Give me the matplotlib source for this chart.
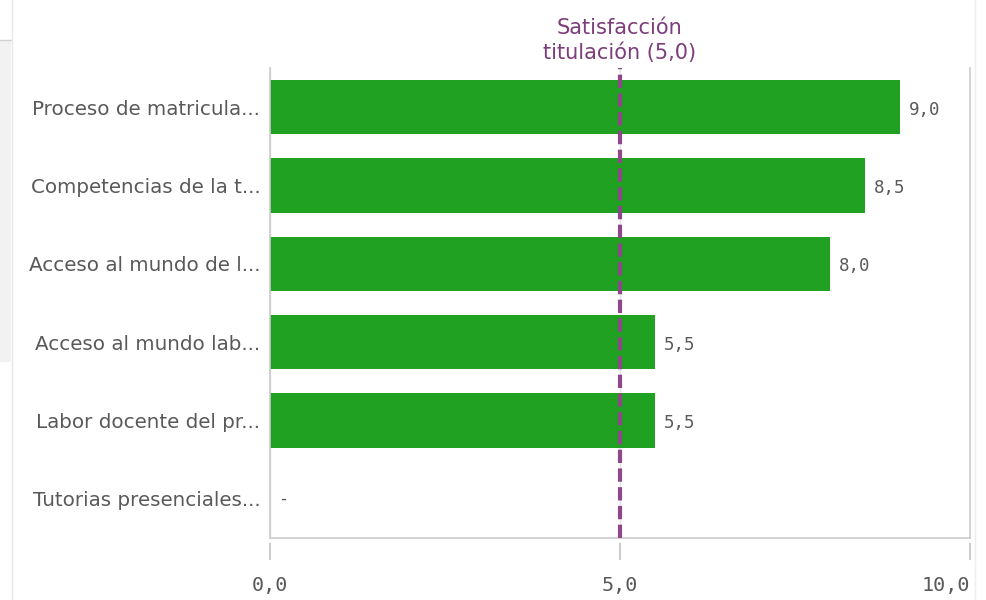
import matplotlib.pyplot as plt
from matplotlib.patches import Rectangle
from matplotlib.lines import Line2D

categories = [
    "Proceso de matricula...",
    "Competencias de la t...",
    "Acceso al mundo de l...",
    "Acceso al mundo lab...",
    "Labor docente del pr...",
    "Tutorias presenciales...",
]
values = [9.0, 8.5, 8.0, 5.5, 5.5, None]
ref_value = 5.0
xticks = [0, 5, 10]

GREEN = "#20a121"
PURPLE = "#8e4788"
PURPLE_TXT = "#7d3c7b"
GREY_TXT = "#595959"
AXIS_GREY = "#cccccc"


def fmt(v):
    return f"{v:.1f}".replace(".", ",")


fig = plt.figure(figsize=(9.87, 6.0), dpi=100)
W, H = 987, 600
ax = fig.add_axes([270 / W, 1 - 538 / H, 700 / W, 470 / H])

# panel fragments at left/right edges of the screenshot
fig.patches.append(Rectangle((0, 1 - 362 / H), 11 / W, 322 / H, transform=fig.transFigure,
                             facecolor="#f2f2f2", edgecolor="none", zorder=0))
fig.lines.append(Line2D([0, 11 / W], [1 - 40 / H] * 2, transform=fig.transFigure,
                        color="#d0d0d0", lw=1))
fig.lines.append(Line2D([12 / W] * 2, [0, 1], transform=fig.transFigure, color="#e8e8e8", lw=1))
fig.lines.append(Line2D([975 / W] * 2, [0, 1], transform=fig.transFigure, color="#eeeeee", lw=1))

ypos = list(range(len(categories)))
for y, v in zip(ypos, values):
    if v is None:
        ax.text(0.12, y, "-", va="center", ha="left", fontsize=12,
                family="DejaVu Sans Mono", color=GREY_TXT)
        continue
    ax.barh(y, v, height=0.69, color=GREEN, zorder=2)
    ax.text(v + 0.12, y + 0.03, fmt(v), va="center", ha="left", fontsize=12.5,
            family="DejaVu Sans Mono", color=GREY_TXT)

ax.set_xlim(0, 10)
ax.set_ylim(len(categories) - 0.5, -0.5)
ax.set_yticks(ypos)
ax.set_yticklabels(categories, fontsize=14.3, color=GREY_TXT)
ax.tick_params(axis="y", length=0, pad=7)

ax.set_xticks(xticks)
ax.set_xticklabels([fmt(t) for t in xticks], family="DejaVu Sans Mono",
                   fontsize=14.5, color=GREY_TXT)
ax.tick_params(axis="x", length=0, pad=27)
xt = ax.get_xticklabels()
xt[-1].set_ha("right")
xt[-1].set_x(10)
for t in xticks:
    ax.plot([t, t], [-0.012, -0.045], transform=ax.get_xaxis_transform(),
            color=AXIS_GREY, lw=1.5, clip_on=False)
ax.grid(axis="x", color="#e3e3e3", lw=1)
ax.set_axisbelow(True)

for s in ["left", "bottom", "right"]:
    ax.spines[s].set_color(AXIS_GREY)
    ax.spines[s].set_linewidth(1.2)
ax.spines["top"].set_visible(False)

ax.axvline(ref_value, ymin=0, ymax=1.0, color=PURPLE, lw=3, ls=(0, (3.2, 1.3)),
           zorder=3)
ax.text(ref_value, -0.565, "Satisfacción\ntitulación (5,0)", ha="center", va="bottom",
        fontsize=15, color=PURPLE_TXT, linespacing=1.25)

fig.savefig("out.png", dpi=100)
